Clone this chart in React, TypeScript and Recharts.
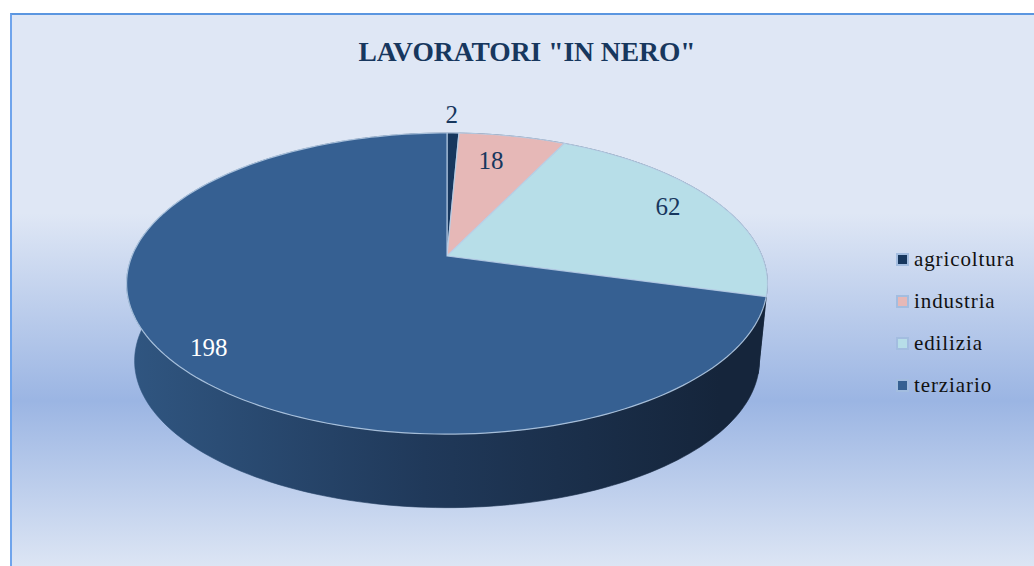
import React from 'react';
import { PieChart, Pie, Legend } from 'recharts';

const categories = ['agricoltura', 'industria', 'edilizia', 'terziario'];
const values = [2, 18, 62, 198];
const colors = ['#17375E', '#E6B8B7', '#B7DEE8', '#366092'];
// where each value label sits: fraction of the radius, then a small nudge in px
const labelRadius = [1.13, 0.72, 0.78, 0.82];
const labelNudgeX = [-2, -3, 13, -7];
const labelNudgeY = [-3, -9, -6, 10];
const labelColors = ['#17375E', '#17375E', '#17375E', '#FFFFFF'];

const chartData = categories.map((name, i) => ({ name, value: values[i], fill: colors[i] }));

const FONT = '"Liberation Serif", serif';
const CX = 447;
const CY = 256;
const RADIUS = 315;
// the tilted disc: vertical squash and perspective of the top face
const SQUASH = 0.462;
const PERSPECTIVE = -0.183;
const WALL_DROP = 78;
const WALL_SCALE = 0.975;

// recharts angle (degrees) to a point on the tilted disc, relative to the pie centre
const project = (angle: number, radius: number, scale = 1) => {
  const rad = (angle * Math.PI) / 180;
  const u = Math.cos(rad);
  const v = -Math.sin(rad);
  const d = 1 + PERSPECTIVE * v;
  return { x: (scale * radius * u) / d, y: (scale * radius * SQUASH * v) / d };
};

const arcPoints = (start: number, end: number, radius: number, cx: number, cy: number, scale = 1, drop = 0) => {
  const steps = Math.max(2, Math.ceil(Math.abs(end - start) / 1.5));
  const pts: string[] = [];
  for (let i = 0; i <= steps; i++) {
    const p = project(start + ((end - start) * i) / steps, radius, scale);
    pts.push(`${cx + p.x},${cy + p.y + drop}`);
  }
  return pts;
};

const TopSector = (props: any) => {
  const { cx, cy, outerRadius, startAngle, endAngle, fill } = props;
  const pts = [`${cx},${cy}`, ...arcPoints(startAngle, endAngle, outerRadius, cx, cy)];
  return <polygon points={pts.join(' ')} fill={fill} stroke="#B9CFE8" strokeOpacity={0.85} strokeWidth={1.2} />;
};

const WallSector = (props: any) => {
  const { cx, cy, outerRadius, startAngle, endAngle } = props;
  const top = arcPoints(startAngle, endAngle, outerRadius, cx, cy);
  const bottom = arcPoints(startAngle, endAngle, outerRadius, cx, cy, WALL_SCALE, WALL_DROP);
  return <polygon points={[...top, ...bottom.reverse()].join(' ')} fill="url(#wallGradient)" stroke="url(#wallGradient)" strokeWidth={0.6} />;
};

const renderLabel = (props: any) => {
  const { cx, cy, outerRadius, midAngle, index, value } = props;
  const p = project(midAngle, outerRadius * labelRadius[index]);
  return (
    <text
      x={cx + p.x + labelNudgeX[index]}
      y={cy + p.y + labelNudgeY[index]}
      textAnchor="middle"
      dominantBaseline="central"
      fontFamily={FONT}
      fontSize={25}
      fill={labelColors[index]}
    >
      {value}
    </text>
  );
};

// both pies feed the legend, so keep one row per category, in data order
const renderLegend = (props: any) => {
  const items = categories.map((name) => (props.payload || []).find((p: any) => p.value === name)).filter(Boolean);
  return (
    <div>
      {items.map((item: any) => (
        <div key={item.value} style={{ display: 'flex', alignItems: 'center', height: 42, fontFamily: FONT, fontSize: 21, letterSpacing: 0.9, color: '#111' }}>
          <span style={{ width: 9, height: 9, border: '2px solid #A3BDE0', background: item.color, marginRight: 5 }} />
          {item.value}
        </div>
      ))}
    </div>
  );
};

export default function App() {
  return (
    <div style={{ position: 'fixed', left: 0, top: 0, width: 1034, height: 566, background: '#fff', overflow: 'hidden' }}>
      <div
        style={{
          position: 'absolute',
          left: 10,
          top: 13,
          width: 1024,
          height: 553,
          boxSizing: 'border-box',
          borderLeft: '2px solid #6FA4EC',
          borderTop: '2px solid #5B96E0',
          background: 'linear-gradient(180deg, #DFE7F5 0%, #DFE7F5 36%, #9BB5E3 70%, #DCE5F4 100%)',
        }}
      />
      <div style={{ position: 'absolute', left: 0, top: 36, width: 1054, textAlign: 'center', fontFamily: FONT, fontWeight: 700, fontSize: 27.5, color: '#17375E' }}>
        LAVORATORI "IN NERO"
      </div>
      <div style={{ position: 'absolute', left: 0, top: 0 }}>
        <PieChart width={1034} height={566} margin={{ top: 0, right: 0, bottom: 0, left: 0 }}>
          <defs>
            <linearGradient id="wallGradient" gradientUnits="userSpaceOnUse" x1={127} y1={0} x2={720} y2={0}>
              <stop offset="0%" stopColor="#305681" />
              <stop offset="50%" stopColor="#20395A" />
              <stop offset="100%" stopColor="#15253B" />
            </linearGradient>
          </defs>
          <Pie
            data={chartData}
            dataKey="value"
            nameKey="name"
            cx={CX}
            cy={CY}
            outerRadius={RADIUS}
            startAngle={90}
            endAngle={-270}
            shape={WallSector}
            legendType="none"
            label={false}
            isAnimationActive={false}
          />
          <Pie
            data={chartData}
            dataKey="value"
            nameKey="name"
            cx={CX}
            cy={CY}
            outerRadius={RADIUS}
            startAngle={90}
            endAngle={-270}
            shape={TopSector}
            label={renderLabel}
            labelLine={false}
            isAnimationActive={false}
          />
          <Legend content={renderLegend} wrapperStyle={{ position: 'absolute', left: 896, top: 238, width: 138, bottom: 'auto' }} />
        </PieChart>
      </div>
    </div>
  );
}
